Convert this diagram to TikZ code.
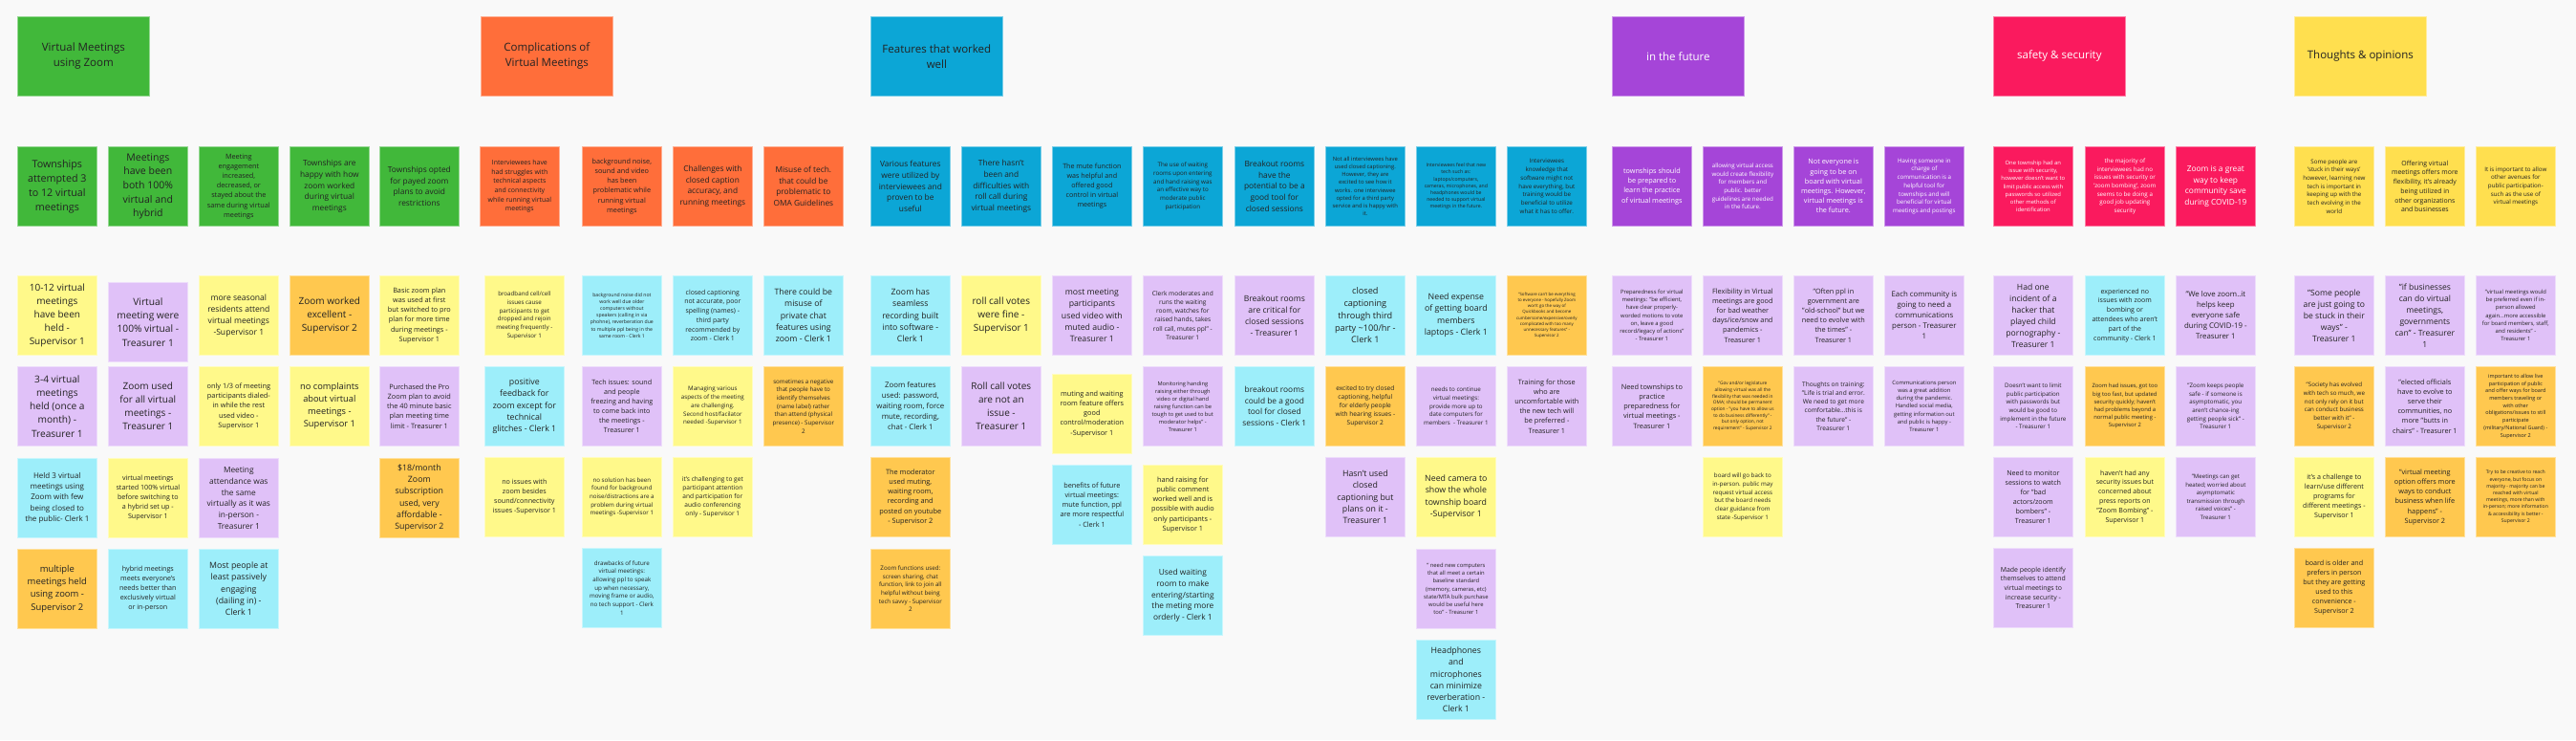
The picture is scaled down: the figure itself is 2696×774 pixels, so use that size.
\documentclass[tikz,border=0pt]{standalone}
\usepackage{fontspec}
\setmainfont{Open Sans}
\definecolor{bg}{HTML}{F9F9F9}
\definecolor{ink}{HTML}{222222}
\definecolor{cGR}{HTML}{41B83A}
\definecolor{cRO}{HTML}{FF6E3A}
\definecolor{cBL}{HTML}{0CA6D6}
\definecolor{cPU}{HTML}{A545D8}
\definecolor{cPK}{HTML}{FA1A5E}
\definecolor{cGD}{HTML}{FFDF4F}
\definecolor{cLY}{HTML}{FFF98A}
\definecolor{cLP}{HTML}{E0C1F8}
\definecolor{cOR}{HTML}{FFC84F}
\definecolor{cCY}{HTML}{9DEEFA}
\tikzset{
  note/.style={anchor=north west, minimum width=83pt, minimum height=83pt, inner sep=0pt, align=center, text=ink, line width=0.7pt},
  hdr/.style={anchor=north west, minimum width=138pt, minimum height=83pt, inner sep=0pt, align=center, text=ink, line width=0.7pt, font=\fontsize{11.5}{16}\selectfont},
  wt/.style={text=white}
}
\newcommand\sn[7][]{\pgfmathsetmacro\snfs{#6/1.4}\node[note,fill=#5,draw=#5!55!white,font=\fontsize{\snfs}{#6}\selectfont,#1] (#2) at (#3,#4) {#7};}
\newcommand\hd[6][]{\node[hdr,fill=#5,draw=#5!55!white,#1] (#2) at (#3,#4) {#6};}
\begin{document}
\begin{tikzpicture}[x=1pt,y=-1pt]
\fill[bg] (0,0) rectangle (2696,774);
\useasboundingbox (0,0) rectangle (2696,774);
% headers
\hd{h1}{18}{17}{cGR}{Virtual Meetings\\using Zoom}
\hd{h2}{503}{17}{cRO}{Complications of\\Virtual Meetings}
\hd{h3}{911}{17}{cBL}{Features that worked\\well}
\hd[wt]{h4}{1687}{17}{cPU}{in the future}
\hd[wt]{h5}{2086}{17}{cPK}{safety \& security}
\hd{h6}{2401}{17}{cGD}{Thoughts \& opinions}
% ---- Section 1
\sn{z11}{18}{153}{cGR}{15}{Townships\\attempted 3\\to 12 virtual\\meetings}
\sn{z12}{113}{153}{cGR}{14.7}{Meetings\\have been\\both 100\%\\virtual and\\hybrid}
\sn{z13}{208}{153}{cGR}{10.2}{Meeting\\engagement\\increased,\\decreased, or\\stayed about the\\same during virtual\\meetings}
\sn{z14}{303}{153}{cGR}{11.7}{Townships are\\happy with how\\zoom worked\\during virtual\\meetings}
\sn{z15}{397}{153}{cGR}{11.7}{Townships opted\\for payed zoom\\plans to avoid\\restrictions}
\sn{z21}{18}{288}{cLY}{14}{10-12 virtual\\meetings\\have been\\held -\\Supervisor 1}
\sn{z22}{113}{295}{cLP}{14.3}{Virtual\\meeting were\\100\% virtual -\\Treasurer 1}
\sn{z23}{208}{288}{cLY}{12}{more seasonal\\residents attend\\virtual meetings\\-Supervisor 1}
\sn{z24}{303}{288}{cOR}{14}{Zoom worked\\excellent -\\Supervisor 2}
\sn{z25}{397}{288}{cLY}{10.2}{Basic zoom plan\\was used at first\\but switched to pro\\plan for more time\\during meetings -\\Supervisor 1}
\sn{z31}{18}{383}{cLP}{14.2}{3-4 virtual\\meetings\\held (once a\\month) -\\Treasurer 1}
\sn{z32}{113}{383}{cLP}{14}{Zoom used\\for all virtual\\meetings -\\Treasurer 1}
\sn{z33}{208}{383}{cLY}{10.3}{only 1/3 of meeting\\participants dialed-\\in while the rest\\used video -\\Supervisor 1}
\sn{z34}{303}{383}{cLY}{13}{no complaints\\about virtual\\meetings -\\Supervisor 1}
\sn{z35}{397}{383}{cLP}{10.3}{Purchased the Pro\\Zoom plan to avoid\\the 40 minute basic\\plan meeting time\\limit - Treasurer 1}
\sn{z41}{18}{479}{cCY}{11.2}{Held 3 virtual\\meetings using\\Zoom with few\\being closed to\\the public- Clerk 1}
\sn{z42}{113}{479}{cLY}{10}{virtual meetings\\started 100\% virtual\\before switching to\\a hybrid set up -\\Supervisor 1}
\sn{z43}{208}{479}{cLP}{11.7}{Meeting\\attendance was\\the same\\virtually as it was\\in-person -\\Treasurer 1}
\sn{z45}{397}{479}{cOR}{12.3}{\$18/month\\Zoom\\subscription\\used, very\\affordable -\\Supervisor 2}
\sn{z51}{18}{574}{cOR}{13.2}{multiple\\meetings held\\using zoom -\\Supervisor 2}
\sn{z52}{113}{574}{cCY}{10}{hybrid meetings\\meets everyone's\\needs better than\\exclusively virtual\\or in-person}
\sn{z53}{208}{574}{cCY}{12.3}{Most people at\\least passively\\engaging\\(dailing in) -\\Clerk 1}
% ---- Section 2
\sn{c11}{502}{153}{cRO}{9.7}{Interviewees have\\had struggles with\\technical aspects\\and connectivity\\while running virtual\\meetings}
\sn{c12}{609}{153}{cRO}{10.2}{background noise,\\sound and video\\has been\\problematic while\\running virtual\\meetings}
\sn{c13}{704}{153}{cRO}{11.7}{Challenges with\\closed caption\\accuracy, and\\running meetings}
\sn{c14}{799}{153}{cRO}{11.7}{Misuse of tech.\\that could be\\problematic to\\OMA Guidelines}
\sn{c21}{507}{288}{cLY}{8.7}{broadband cell/cell\\issues cause\\participants to get\\dropped and rejoin\\meeting frequently -\\Supervisor 1}
\sn{c22}{609}{288}{cCY}{7.2}{background noise did not\\work well due older\\computers without\\speakers (calling in via\\phohne), reverberation due\\to multiple ppl being in the\\same room - Clerk 1}
\sn{c23}{704}{288}{cCY}{9.7}{closed captioning\\not accurate, poor\\spelling (names) -\\third party\\recommended by\\zoom - Clerk 1}
\sn{c24}{799}{288}{cCY}{12.2}{There could be\\misuse of\\private chat\\features using\\zoom - Clerk 1}
\sn{c31}{507}{383}{cCY}{12.3}{positive\\feedback for\\zoom except for\\technical\\glitches - Clerk 1}
\sn{c32}{609}{383}{cLP}{10}{Tech issues: sound\\and people\\freezing and having\\to come back into\\the meetings -\\Treasurer 1}
\sn{c33}{704}{383}{cLY}{8.7}{Managing various\\aspects of the meeting\\are challenging.\\Second host/facilator\\needed -Supervisor 1}
\sn{c34}{799}{383}{cOR}{8.7}{sometimes a negative\\that people have to\\identify themselves\\(name label) rather\\than attend (physical\\presence) - Supervisor\\2}
\sn{c41}{507}{478}{cLY}{10}{no issues with\\zoom besides\\sound/connectivity\\issues -Supervisor 1}
\sn{c42}{609}{478}{cLY}{8.7}{no solution has been\\found for background\\noise/distractions are a\\problem during virtual\\meetings -Supervisor 1}
\sn{c43}{704}{478}{cLY}{9.2}{it's challenging to get\\participant attention\\and participation for\\audio conferencing\\only - Supervisor 1}
\sn{c52}{609}{573}{cCY}{8.7}{drawbacks of future\\virtual meetings:\\allowing ppl to speak\\up when necessary,\\moving frame or audio,\\no tech support - Clerk\\1}
% ---- Section 3
\sn{f11}{911}{153}{cBL}{11.7}{Various features\\were utilized by\\interviewees and\\proven to be\\useful}
\sn{f12}{1006}{153}{cBL}{11.7}{There hasn't\\been and\\difficulties with\\roll call during\\virtual meetings}
\sn{f13}{1101}{153}{cBL}{10}{The mute function\\was helpful and\\offered good\\control in virtual\\meetings}
\sn{f14}{1196}{153}{cBL}{8.7}{The use of waiting\\rooms upon entering\\and hand raising was\\an effective way to\\moderate public\\participation}
\sn{f15}{1292}{153}{cBL}{11.7}{Breakout rooms\\have the\\potential to be a\\good tool for\\closed sessions}
\sn{f16}{1387}{153}{cBL}{8.2}{Not all interviewees have\\used closed captioning.\\However, they are\\excited to see how it\\works. one interviewee\\opted for a third party\\service and is happy with\\it.}
\sn{f17}{1482}{153}{cBL}{7.2}{Interviewees feel that new\\tech such as:\\laptops/computers,\\cameras, microphones, and\\headphones would be\\needed to support virtual\\meetings in the future.}
\sn{f18}{1577}{153}{cBL}{8.7}{Interviewees\\knowledge that\\software might not\\have everything, but\\training would be\\beneficial to utilize\\what it has to offer.}
\sn{f21}{911}{288}{cCY}{12.2}{Zoom has\\seamless\\recording built\\into software -\\Clerk 1}
\sn{f22}{1006}{288}{cLY}{14}{roll call votes\\were fine -\\Supervisor 1}
\sn{f23}{1101}{288}{cLP}{12.2}{most meeting\\participants\\used video with\\muted audio -\\Treasurer 1}
\sn{f24}{1196}{288}{cLP}{9.2}{Clerk moderates and\\runs the waiting\\room, watches for\\raised hands, takes\\roll call, mutes ppl" -\\Treasurer 1}
\sn{f25}{1292}{288}{cLP}{12}{Breakout rooms\\are critical for\\closed sessions\\- Treasurer 1}
\sn{f26}{1387}{288}{cCY}{12.8}{closed\\captioning\\through third\\party \textasciitilde100/hr -\\Clerk 1}
\sn{f27}{1482}{288}{cCY}{12.3}{Need expense\\of getting board\\members\\laptops - Clerk 1}
\sn{f28}{1577}{288}{cOR}{6.2}{"Software can't be everything\\to everyone - hopefully Zoom\\won't go the way of\\Quickbooks and become\\cumbersome/expensive/overly\\complicated with too many\\unnecessary features" -\\Supervisor 2}
\sn{f31}{911}{383}{cCY}{11}{Zoom features\\used: password,\\waiting room, force\\mute, recording,\\chat - Clerk 1}
\sn{f32}{1006}{383}{cLP}{14}{Roll call votes\\are not an\\issue -\\Treasurer 1}
\sn{f33}{1101}{391}{cLY}{10.2}{muting and waiting\\room feature offers\\good\\control/moderation\\-Supervisor 1}
\sn{f34}{1196}{383}{cLP}{8}{Monitoring handing\\raising either through\\video or digital hand\\raising function can be\\tough to get used to but\\moderator helps" -\\Treasurer 1}
\sn{f35}{1292}{383}{cCY}{11.7}{breakout rooms\\could be a good\\tool for closed\\sessions - Clerk 1}
\sn{f36}{1387}{383}{cOR}{9.2}{excited to try closed\\captioning, helpful\\for elderly people\\with hearing issues -\\Supervisor 2}
\sn{f37}{1482}{383}{cLP}{8.7}{needs to continue\\virtual meetings:\\provide more up to\\date computers for\\members ~- Treasurer 1}
\sn{f38}{1577}{383}{cLP}{10.2}{Training for those\\who are\\uncomfortable with\\the new tech will\\be preferred -\\Treasurer 1}
\sn{f41}{911}{478}{cOR}{10.3}{The moderator\\used muting,\\waiting room,\\recording and\\posted on youtube\\- Supervisor 2}
\sn{f43}{1101}{486}{cCY}{10.2}{benefits of future\\virtual meetings:\\mute function, ppl\\are more respectful\\- Clerk 1}
\sn{f44}{1196}{486}{cLY}{10.2}{hand raising for\\public comment\\worked well and is\\possible with audio\\only participants -\\Supervisor 1}
\sn{f46}{1387}{478}{cLP}{12.3}{Hasn't used\\closed\\captioning but\\plans on it -\\Treasurer 1}
\sn{f47}{1482}{478}{cLY}{12.3}{Need camera to\\show the whole\\township board\\-Supervisor 1}
\sn{f51}{911}{574}{cOR}{8.7}{Zoom functions used:\\screen sharing, chat\\function, link to join all\\helpful without being\\tech savvy - Supervisor\\2}
\sn{f54}{1196}{581}{cCY}{11.7}{Used waiting\\room to make\\entering/starting\\the meting more\\orderly - Clerk 1}
\sn{f57}{1482}{574}{cLP}{8.2}{" need new computers\\that all meet a certain\\baseline standard\\(memory, cameras, etc)\\state/MTA bulk purchase\\would be useful here\\too" - Treasurer 1}
\sn{f67}{1482}{669}{cCY}{12.3}{Headphones\\and\\microphones\\can minimize\\reverberation -\\Clerk 1}
% ---- Section 4
\sn[wt]{u11}{1687}{153}{cPU}{10.2}{townships should\\be prepared to\\learn the practice\\of virtual meetings}
\sn[wt]{u12}{1782}{153}{cPU}{8.7}{allowing virtual access\\would create flexibility\\for members and\\public. better\\guidelines are needed\\in the future.}
\sn[wt]{u13}{1877}{153}{cPU}{10.2}{Not everyone is\\going to be on\\board with virtual\\meetings. However,\\virtual meetings is\\the future.}
\sn[wt]{u14}{1972}{153}{cPU}{8.7}{Having someone in\\charge of\\communication is a\\helpful tool for\\townships and will\\beneficial for virtual\\meetings and postings}
\sn{u21}{1687}{288}{cLP}{8.2}{Preparedness for virtual\\meetings: "be efficient,\\have clear properly-\\worded motions to vote\\on, leave a good\\record/legacy of actions"\\- Treasurer 1}
\sn{u22}{1782}{288}{cLP}{10.2}{Flexibility in Virtual\\meetings are good\\for bad weather\\days/ice/snow and\\pandemics -\\Treasurer 1}
\sn{u23}{1877}{288}{cLP}{10.2}{"Often ppl in\\government are\\"old-school" but we\\need to evolve with\\the times" -\\Treasurer 1}
\sn{u24}{1972}{288}{cLP}{11}{Each community is\\going to need a\\communications\\person - Treasurer\\1}
\sn{u31}{1687}{383}{cLP}{10.3}{Need townships to\\practice\\preparedness for\\virtual meetings -\\Treasurer 1}
\sn{u32}{1782}{383}{cOR}{6.7}{"Gov and/or legislature\\allowing virtual was all the\\flexibility that was needed in\\OMA; should be permanent\\option - "you have to allow us\\to do business differently" -\\but only option, not\\requirement" - Supervisor 2}
\sn{u33}{1877}{383}{cLP}{9.2}{Thoughts on training:\\"Life is trial and error.\\We need to get more\\comfortable...this is\\the future" -\\Treasurer 1}
\sn{u34}{1972}{383}{cLP}{8.2}{Communications person\\was a great addition\\during the pandemic.\\Handled social media,\\getting information out\\and public is happy -\\Treasurer 1}
\sn{u42}{1782}{478}{cLY}{8.7}{board will go back to\\in-person. public may\\request virtual access\\but the board needs\\clear guidance from\\state -Supervisor 1}
% ---- Section 5
\sn[wt]{s11}{2086}{153}{cPK}{8.2}{One township had an\\issue with security,\\however doesn't want to\\limit public access with\\passwords so utilized\\other methods of\\identification}
\sn[wt]{s12}{2182}{153}{cPK}{8.7}{the majority of\\interviewees had no\\issues with security or\\'zoom bombing', zoom\\seems to be doing a\\good job updating\\security}
\sn[wt]{s13}{2277}{153}{cPK}{11.7}{Zoom is a great\\way to keep\\community save\\during COVID-19}
\sn{s21}{2086}{288}{cLP}{12}{Had one\\incident of a\\hacker that\\played child\\pornography -\\Treasurer 1}
\sn{s22}{2182}{288}{cCY}{9.8}{experienced no\\issues with zoom\\bombing or\\attendees who aren't\\part of the\\community - Clerk 1}
\sn{s23}{2277}{288}{cLP}{11}{"We love zoom..it\\helps keep\\everyone safe\\during COVID-19 -\\Treasurer 1}
\sn{s31}{2086}{383}{cLP}{8.7}{Doesn't want to limit\\public participation\\with passwords but\\would be good to\\implement in the future\\- Treasurer 1}
\sn{s32}{2182}{383}{cOR}{8.2}{Zoom had issues, got too\\big too fast, but updated\\security quickly; haven't\\had problems beyond a\\normal public meeting -\\Supervisor 2}
\sn{s33}{2277}{383}{cLP}{8.7}{"Zoom keeps people\\safe - if someone is\\asymptomatic, you\\aren't chance-ing\\getting people sick" -\\Treasurer 1}
\sn{s41}{2086}{478}{cLP}{10}{Need to monitor\\sessions to watch\\for "bad\\actors/zoom\\bombers" -\\Treasurer 1}
\sn{s42}{2182}{478}{cLY}{9.8}{haven't had any\\security issues but\\concerned about\\press reports on\\"Zoom Bombing" -\\Supervisor 1}
\sn{s43}{2277}{478}{cLP}{8.5}{"Meetings can get\\heated; worried about\\asymptomatic\\transmission through\\raised voices" -\\Treasurer 1}
\sn{s51}{2086}{573}{cLP}{9.7}{Made people identify\\themselves to attend\\virtual meetings to\\increase security -\\Treasurer 1}
% ---- Section 6
\sn{t11}{2401}{153}{cGD}{8.7}{Some people are\\'stuck in their ways'\\however, learning new\\tech is important in\\keeping up with the\\tech evolving in the\\world}
\sn{t12}{2496}{153}{cGD}{9.7}{Offering virtual\\meetings offers more\\flexibility, it's already\\being utilized in\\other organizations\\and businesses}
\sn{t13}{2591}{153}{cGD}{8.7}{It is important to allow\\other avenues for\\public participation-\\such as the use of\\virtual meetings}
\sn{t21}{2401}{288}{cLP}{12}{"Some people\\are just going to\\be stuck in their\\ways" -\\Treasurer 1}
\sn{t22}{2496}{288}{cLP}{12}{"if businesses\\can do virtual\\meetings,\\governments\\can" - Treasurer\\1}
\sn{t23}{2591}{288}{cLP}{8.2}{"virtual meetings would\\be preferred even if in-\\person allowed\\again...more accessible\\for board members, staff,\\and residents" -\\Treasurer 1}
\sn{t31}{2401}{383}{cOR}{8.7}{"Society has evolved\\with tech so much, we\\not only rely on it but\\can conduct business\\better with it" -\\Supervisor 2}
\sn{t32}{2496}{383}{cLP}{10.2}{"elected officials\\have to evolve to\\serve their\\communities, no\\more "butts in\\chairs" - Treasurer 1}
\sn{t33}{2591}{383}{cOR}{7.7}{important to allow live\\participation of public\\and offer ways for board\\members traveling or\\with other\\obligations/issues to still\\participate\\(military/National Guard) -\\Supervisor 2}
\sn{t41}{2401}{478}{cLY}{10}{it's a challenge to\\learn/use different\\programs for\\different meetings -\\Supervisor 1}
\sn{t42}{2496}{478}{cOR}{10.2}{"virtual meeting\\option offers more\\ways to conduct\\business when life\\happens" -\\Supervisor 2}
\sn{t43}{2591}{478}{cOR}{7.2}{Try to be creative to reach\\everyone, but focus on\\majority - majority can be\\reached with virtual\\meetings, more than with\\in-person; more information\\\& accessibility is better -\\Supervisor 2}
\sn{t51}{2401}{573}{cOR}{10}{board is older and\\prefers in person\\but they are getting\\used to this\\convenience -\\Supervisor 2}
\end{tikzpicture}
\end{document}
